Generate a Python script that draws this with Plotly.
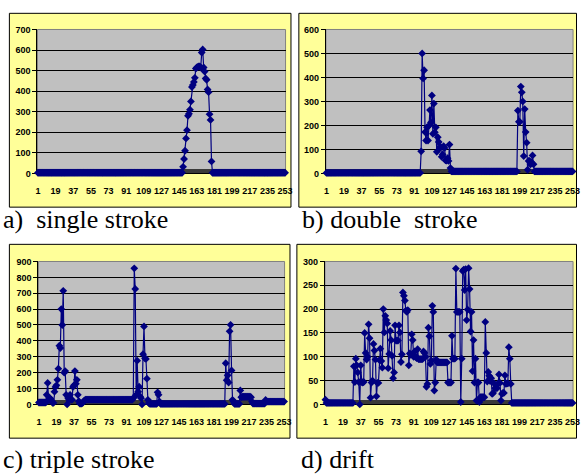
import plotly.graph_objects as go

N = 253
x_idx = list(range(1, N + 1))
x_tickvals = list(range(1, 254, 18))
x_ticktext = [str(v) for v in x_tickvals]

# ---- a) single stroke ----
a_lead = [3] * 148
a_peak = [32, 70, 110, 170, 210, 280, 290, 310, 350, 420, 430, 445, 465, 510, 515,
          518, 520, 520, 515, 588, 603, 515, 495, 462, 455, 408, 395, 288, 260, 58]
a_tail = [3] * 75
series_a = a_lead + a_peak + a_tail

# ---- b) double stroke ----
b_lead = [2] * 97
b_burst1 = [92, 500, 396, 430, 172, 137, 192, 137, 199, 264, 212, 325, 165, 291, 171,
            192, 90, 151, 131, 106, 110, 69, 79, 113, 106, 54, 53, 63, 52, 120, 22]
b_mid = [8] * 68
b_burst2 = [262, 215, 215, 362, 338, 300, 72, 268, 172, 128, 15, 52, 52, 38, 45, 75, 38]
b_tail = [8] * 40
series_b = b_lead + b_burst1 + b_mid + b_burst2 + b_tail

# ---- c) triple stroke ----
c_lead = [12] * 8
c_burst1 = [60, 135, 30, 40, 35, 25, 10, 10, 80, 110, 120, 155, 225, 370, 355, 600, 500,
            715, 200, 210, 60, 0, 40, 30, 60, 30, 30, 110, 120, 210, 130, 155, 60, 20,
            5, 5, 5, 10, 20, 25]
c_base1 = [30] * 49
c_burst2 = [40, 857, 727, 60, 275, 80, 111, 49, 39, 0, 316, 491, 290, 286, 162, 29, 8,
            3, 3, 3, 3, 3, 3, 3, 3, 76, 60, 18]
c_base2 = [3] * 67
c_burst3 = [259, 152, 183, 138, 460, 501, 214, 29, 18, 3, 3, 3, 3, 3, 3, 88, 45, 48, 48,
            48, 48, 48, 48, 48, 48, 48, 45, 18, 5]
c_base3 = [5] * 12
c_bump = [28]
c_tail = [18] * 19
series_c = c_lead + c_burst1 + c_base1 + c_burst2 + c_base2 + c_burst3 + c_base3 + c_bump + c_tail

# ---- d) drift ----
d_lead = [10] + [3] * 28
d_burst = [80, 47, 96, 82, 67, 47, 0, 82, 47, 46, 47, 150, 108, 94, 100, 168, 139, 14,
           46, 50, 127, 113, 94, 17, 45, 45, 93, 117, 91, 77, 200, 151, 186, 177, 170,
           76, 106, 154, 135, 102, 55, 67, 166, 134, 134, 134, 166, 151, 89, 105, 235,
           228, 218, 197, 194, 198, 82, 107, 104, 147, 135, 100, 111, 100, 97, 116, 95,
           95, 95, 95, 95, 111, 108, 100, 37, 43, 161, 143, 85, 92, 207, 194, 29, 46, 94,
           88, 88, 88, 88, 88, 88, 88, 88, 88, 88, 88, 46, 46, 46, 46,
           144, 96, 96, 96, 285, 194, 194, 194, 194, 5, 96, 280, 283, 240, 284, 177, 199,
           286, 242, 153, 194, 70, 135, 46, 96, 8, 46, 46, 5, 15, 15, 15, 15, 15, 173,
           108, 48, 68, 60, 49, 55, 22, 24, 44, 34, 34, 34, 44, 63, 45, 8, 22, 24, 24,
           61, 43, 44, 44, 120, 96, 43]
d_tail = [3] * (N - len(d_lead) - len(d_burst))
series_d = d_lead + d_burst + d_tail

W, H = 584, 474

def px(xp):
    return xp / W

def py(yp):
    return 1 - yp / H

panels = [
    ("", series_a, 700, 100, (36, 288, 25, 172), (7.5, 293.5, 8.5, 206.5), "a)\u00a0 single stroke", (-1, 219.5)),
    ("2", series_b, 600, 100, (329, 580, 25, 172), (301.5, 583.5, 8.5, 206.5), "b) double\u00a0 stroke", (303, 219.5)),
    ("3", series_c, 900, 100, (37, 287, 262, 408), (7.5, 292.5, 244.5, 442.5), "c) triple stroke", (-1, 464.5)),
    ("4", series_d, 300, 50, (328, 580, 262, 408), (299.5, 583.5, 244.5, 442.5), "d) drift", (302, 464.5)),
]

tick_font = dict(family="Liberation Sans Narrow, Arial Narrow, Liberation Sans, Arial",
                 size=9, color="black", weight="bold")

fig = go.Figure()
shapes = []
annotations = []
layout_axes = {}

for name, ser, ymax, ydt, (l, r, t, b), (cl, cr, ct, cb), cap, (capx, capy) in panels:
    xa = "x" + name
    ya = "y" + name
    fig.add_trace(go.Scatter(
        x=x_idx[:len(ser)], y=ser, xaxis=xa, yaxis=ya, mode="lines+markers",
        line=dict(color="#000080", width=1.2),
        marker=dict(symbol="diamond", size=6, color="#000080"),
        cliponaxis=False, showlegend=False, hoverinfo="skip",
    ))
    layout_axes["xaxis" + name] = dict(
        domain=[px(l), px(r)], anchor=ya, range=[0.5, 253.5],
        tickmode="array", tickvals=x_tickvals, ticktext=x_ticktext, tickangle=0,
        ticks="outside", ticklen=9, tickcolor="rgba(0,0,0,0)",
        minor=dict(ticks="inside", dtick=1, tick0=0, ticklen=4, tickcolor="#3a3a3a",
                   tickwidth=0.6, showgrid=False),
        showgrid=False, zeroline=False, showline=True, linecolor="black", linewidth=1,
        tickfont=tick_font, fixedrange=True, layer="below traces",
    )
    layout_axes["yaxis" + name] = dict(
        domain=[py(b), py(t)], anchor=xa, range=[0, ymax], dtick=ydt, tick0=0,
        ticks="outside", ticklen=4, tickcolor="black",
        showgrid=True, gridcolor="black", gridwidth=1, zeroline=False,
        showline=True, linecolor="black", linewidth=1,
        tickfont=tick_font, fixedrange=True, layer="below traces",
    )
    shapes.append(dict(type="rect", xref="paper", yref="paper", layer="below",
                       x0=px(cl), x1=px(cr), y0=py(cb), y1=py(ct),
                       fillcolor="#FFFF99", line=dict(color="black", width=1)))
    shapes.append(dict(type="rect", xref="paper", yref="paper", layer="below",
                       x0=px(l), x1=px(r), y0=py(b), y1=py(t),
                       fillcolor="#C0C0C0", line=dict(color="#808080", width=1)))
    annotations.append(dict(text=cap, xref="paper", yref="paper", x=px(capx), y=py(capy),
                            xanchor="left", yanchor="middle", showarrow=False,
                            font=dict(family="Liberation Serif, Times New Roman, serif",
                                      size=26, color="black")))

fig.update_layout(
    width=W, height=H, margin=dict(l=0, r=0, t=0, b=0),
    paper_bgcolor="white", plot_bgcolor="rgba(0,0,0,0)",
    shapes=shapes, annotations=annotations, showlegend=False,
    **layout_axes,
)

fig.write_html("out.html", include_plotlyjs=True, config={"displayModeBar": False})
